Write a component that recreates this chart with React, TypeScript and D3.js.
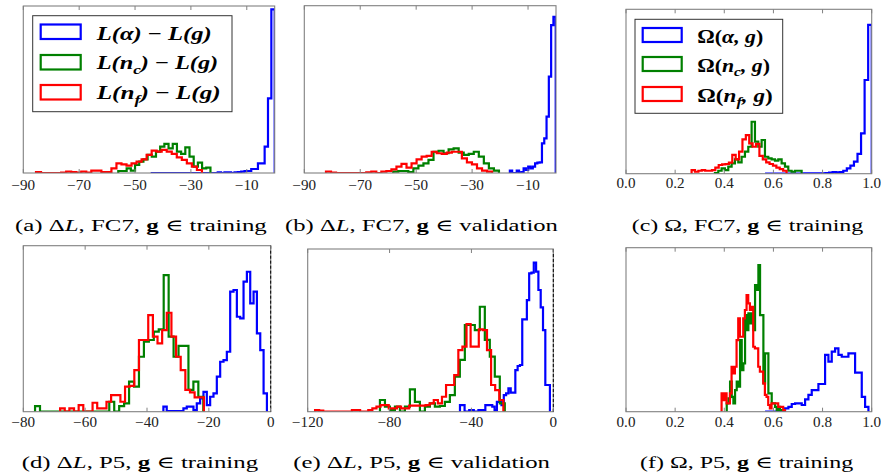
import React, { useEffect, useRef } from 'react';
import * as d3 from 'd3';

const BLUE = '#0000ff';
const GREEN = '#008000';
const RED = '#ff0000';

// Histogram heights are given as % of the axis height; start/width are bin edges in data units.
// (a) ΔL, FC7, training
const aBlueStart = -44.4, aBlueWidth = 1.2;
const aBlue = [0,0,0,0,0,0,0,0,0,0,0,0,0,0,0,0,0,0,0,0,0.4,0,0.4,0.4,0,0.4,0.6,0.8,1.2,1.2,2.4,2.4,5.8,5.8,15.8,44.7,98];
const aGreenStart = -56.0, aGreenWidth = 1.5;
const aGreen = [1.2,1.2,2.8,1.4,4.8,6.8,8.2,10.8,9.8,12.8,15.8,17.4,14.8,17.4,12.8,11.4,15.4,9.8,3.8,6.2,2.8,3.2];
const aRedStart = -85.45, aRedWidth = 1.8;
const aRed = [0.6,0,0,0,0,0.3,0.8,0.6,0.3,0.8,0.3,1.4,1.4,0.6,0.6,2.8,5.8,5.2,4.4,5.8,6.8,8.2,10.8,13.4,12.8,13.8,12.8,11.4,9.4,7.8,5.8,3.8,1.8];

// (b) ΔL, FC7, validation
const bBlueStart = -16.5, bBlueWidth = 0.82;
const bBlue = [1.4,0,0,1.4,0,0.6,2.8,1.8,3.8,2.8,3.8,5.8,6.2,6.4,17.7,20.7,33.7,57.6,88.4,93.4];
const bGreenStart = -58.2, bGreenWidth = 1.8;
const bGreen = [0.8,1.2,1.2,0.6,2.8,4.4,5.8,7.8,12.7,13.3,11.8,14.1,14.7,12.2,10.8,11.4,12.7,9.8,5.8,2.8,1.4];
const bRedStart = -82.25, bRedWidth = 1.8;
const bRed = [0.8,0.3,0,0,0,0,0,0,0.4,0.8,0,0.8,1.2,2.2,3.8,5.4,3.2,5.8,8.2,9.8,10.2,12.7,11.8,11.4,12.2,12.7,12.7,8.8,6.4,5.2,2.8,1.4,0.8];

// (c) Ω, FC7, training
const cBlueStart = 0.566, cBlueWidth = 0.01447;
const cBlue = [0,0,0,0,0,0,0,0,0,0,0,0.2,0.2,0.2,0.2,0.2,0.2,0.3,0.6,1.0,0.8,1.0,1.8,3.2,4.9,7.3,12.0,24.5,57,90.5];
const cGreenStart = 0.362, cGreenWidth = 0.01357;
const cGreen = [0.4,1.8,3.2,2.2,4.3,6.3,8.7,6.9,10.3,13.4,16.4,31.6,19.5,16.4,20.5,10.3,9.3,8.7,7.9,8.7,6.3,4.3,1.8,1.2,1.8,1.8];
const cRedStart = 0.267, cRedWidth = 0.0138;
const cRed = [2.2,1.2,1.8,2.2,1.8,1.8,2.2,3.7,5.3,5.7,5.9,6.7,11.4,8.7,13.4,20.9,23.5,18.5,16.4,18.1,10.8,8.7,6.9,5.9,4.9,3.7,2.8,1.8];

// (d) ΔL, P5, training
const dBlueStart = -34.7, dBlueWidth = 1.08;
const dBlue = [3.0,0.4,0.4,0.4,0.4,0.4,2.0,3.0,3.0,1.0,5.0,8.0,12.0,4.0,9.0,11.0,21.1,30.1,31.1,36.1,72.3,73.3,57.2,56.2,78.3,84.3,65.3,72.3,47.2,37.1,11.0];
const dGreenStart = -76.2, dGreenWidth = 1.6;
const dGreen = [3.4,0,0,0,0,0,0,0,0,0,0,0,0,0,0,6.0,0,3.4,5.0,18.1,15.1,33.1,42.2,43.2,48.2,49.6,82.3,45.2,33.1,39.6,39.6,13.1,18.1,9.0];
const dRedStart = -68.1, dRedWidth = 1.5;
const dRed = [2.0,0,2.0,0,4.0,0,0,5.4,2.0,2.0,6.0,10.0,10.0,6.0,15.1,15.5,25.1,43.2,43.2,58.2,45.2,41.2,49.2,59.6,45.2,33.1,25.1,13.1,11.6,8.6,8.6];

// (e) ΔL, P5, validation
const eBlueStart = -45.6, eBlueWidth = 1.127;
const eBlue = [4.1,4.1,0,0,1.0,1.0,0,0,1.0,1.0,1.0,4.1,4.1,4.1,3.1,1.0,6.1,6.1,4.1,10.2,11.3,14.3,11.7,11.7,25.6,28.1,28.7,56.8,56.8,68.6,85.0,85.5,91.6,86.1,74.8,64.1,50.2,16.4,16.4];
const eGreenStart = -84.7, eGreenWidth = 2.44;
const eGreen = [7.2,3.1,1.0,3.1,0,3.1,13.7,6.1,0,3.1,5.1,3.1,3.5,6.1,10.2,21.5,31.8,53.3,53.3,50.2,64.5,44.1,33.8,21.5,5.1];
const eRedStart = -116.4, eRedWidth = 2.0;
const eRed = [1.0,0.6,0,0,0,0,0,0,0,1.0,1.0,0,0,1.0,2.0,3.1,4.1,4.1,2.0,2.0,3.1,2.0,2.0,3.7,3.7,3.7,3.7,4.1,5.1,7.2,5.1,9.2,16.4,16.4,22.5,37.9,40.0,53.9,40.0,40.0,50.6,50.2,37.9,16.4,13.3,7.2];

// (f) Ω, P5, training
const fBlueStart = 0.566, fBlueWidth = 0.01357;
const fBlue = [0,0,0,0,0,0,2.0,3.0,4.7,5.1,5.1,4.1,7.5,10.2,13.2,13.2,16.9,16.9,34.6,30.5,36.6,38.6,34.6,33.5,33.5,35.6,35.6,23.8,23.8,9.1,3.0];
const fGreenStart = 0.41, fGreenWidth = 0.00678;
const fGreen = [5.1,8.1,18.3,9.1,5.1,13.2,18.3,15.2,43.7,25.4,29.5,58.9,49.8,60.0,53.9,60.0,49.8,77.2,74.2,89.4,58.9,58.9,17.3,35.6,35.6,11.2,11.2,5.1,5.1,3.0,1.0,3.0,1.0,1.0];
const fRedStart = 0.389, fRedWidth = 0.00678;
const fRed = [11.2,7.1,11.2,5.1,5.1,11.2,27.4,23.4,27.4,43.7,56.9,45.7,45.7,56.9,62.0,71.1,66.1,62.0,64.0,39.6,38.6,38.6,27.4,24.4,24.4,17.3,10.2,9.1,4.1,2.0,5.1,5.1,5.1,5.1,3.0,3.0,3.0,1.0];

// Tick values
const ticksFC7 = [-90, -70, -50, -30, -10];
const ticksP5train = [-80, -60, -40, -20, 0];
const ticksP5val = [-120, -80, -40, 0];
const ticksOmega = [0, 0.2, 0.4, 0.6, 0.8, 1.0];

// Captions
const captionLetters = ['a', 'b', 'c', 'd', 'e', 'f'];
const captionLayers = ['FC7', 'FC7', 'FC7', 'P5', 'P5', 'P5'];
const captionSets = ['training', 'validation', 'training', 'training', 'validation', 'training'];
const captionMeasures = ['ΔL', 'ΔL', 'Ω', 'ΔL', 'ΔL', 'Ω'];

type Series = { color: string; start: number; width: number; counts: number[] };
type Panel = {
  left: number; right: number; top: number; bottom: number;
  domain: [number, number]; ticks: number[]; tickY: number; fmt: string;
  dashedRight: boolean; series: Series[];
  cap: { x0: number; x1: number; y: number };
};

const S = (color: string, start: number, width: number, counts: number[]): Series => ({ color, start, width, counts });

const PANELS: Panel[] = [
  { left: 23.3, right: 274.7, top: 6, bottom: 173, domain: [-90, 0], ticks: ticksFC7, tickY: 190, fmt: 'd', dashedRight: false,
    series: [S(BLUE, aBlueStart, aBlueWidth, aBlue), S(GREEN, aGreenStart, aGreenWidth, aGreen), S(RED, aRedStart, aRedWidth, aRed)],
    cap: { x0: 15, x1: 267, y: 230.5 } },
  { left: 304.3, right: 556, top: 5.7, bottom: 173, domain: [-90, 0], ticks: ticksFC7, tickY: 190, fmt: 'd', dashedRight: false,
    series: [S(BLUE, bBlueStart, bBlueWidth, bBlue), S(GREEN, bGreenStart, bGreenWidth, bGreen), S(RED, bRedStart, bRedWidth, bRed)],
    cap: { x0: 285, x1: 558, y: 230.5 } },
  { left: 626, right: 871.7, top: 9.3, bottom: 173.7, domain: [0, 1], ticks: ticksOmega, tickY: 188, fmt: '.1f', dashedRight: false,
    series: [S(BLUE, cBlueStart, cBlueWidth, cBlue), S(GREEN, cGreenStart, cGreenWidth, cGreen), S(RED, cRedStart, cRedWidth, cRed)],
    cap: { x0: 631.7, x1: 863.3, y: 230.5 } },
  { left: 23.3, right: 270.7, top: 245.7, bottom: 411.7, domain: [-80, 0], ticks: ticksP5train, tickY: 426.5, fmt: 'd', dashedRight: true,
    series: [S(BLUE, dBlueStart, dBlueWidth, dBlue), S(GREEN, dGreenStart, dGreenWidth, dGreen), S(RED, dRedStart, dRedWidth, dRed)],
    cap: { x0: 21.7, x1: 258.3, y: 468.3 } },
  { left: 307.7, right: 553.3, top: 249, bottom: 411.7, domain: [-120, 0], ticks: ticksP5val, tickY: 426.5, fmt: 'd', dashedRight: true,
    series: [S(BLUE, eBlueStart, eBlueWidth, eBlue), S(GREEN, eGreenStart, eGreenWidth, eGreen), S(RED, eRedStart, eRedWidth, eRed)],
    cap: { x0: 293.3, x1: 550, y: 468.3 } },
  { left: 626, right: 871.7, top: 247.7, bottom: 411.7, domain: [0, 1], ticks: ticksOmega, tickY: 426.5, fmt: '.1f', dashedRight: false,
    series: [S(BLUE, fBlueStart, fBlueWidth, fBlue), S(GREEN, fGreenStart, fGreenWidth, fGreen), S(RED, fRedStart, fRedWidth, fRed)],
    cap: { x0: 640, x1: 853.3, y: 468.3 } },
];

type Part = { t: string; i?: boolean; b?: boolean; sub?: boolean };

const legendL: Part[][] = [
  [{ t: 'L(α)', i: true }, { t: ' − ' }, { t: 'L(g)', i: true }],
  [{ t: 'L(n', i: true }, { t: 'c', i: true, sub: true }, { t: ')', i: true }, { t: ' − ' }, { t: 'L(g)', i: true }],
  [{ t: 'L(n', i: true }, { t: 'f', i: true, sub: true }, { t: ')', i: true }, { t: ' − ' }, { t: 'L(g)', i: true }],
];
const legendO: Part[][] = [
  [{ t: 'Ω(' }, { t: 'α, g', i: true }, { t: ')' }],
  [{ t: 'Ω(' }, { t: 'n', i: true }, { t: 'c', i: true, sub: true }, { t: ', g', i: true }, { t: ')' }],
  [{ t: 'Ω(' }, { t: 'n', i: true }, { t: 'f', i: true, sub: true }, { t: ', g', i: true }, { t: ')' }],
];

const SERIF = '"Liberation Serif", "Times New Roman", "DejaVu Serif", serif';

function writeParts(text: d3.Selection<SVGTextElement, unknown, null, undefined>, parts: Part[], size: number) {
  let shifted = false;
  parts.forEach((p) => {
    const ts = text.append('tspan').text(p.t);
    if (p.i) ts.attr('font-style', 'italic');
    if (p.b) ts.attr('font-weight', 'bold');
    if (p.sub) {
      ts.attr('font-size', size * 0.7).attr('dy', size * 0.25);
      shifted = true;
    } else if (shifted) {
      ts.attr('dy', -size * 0.25);
      shifted = false;
    }
  });
}

function fit(text: d3.Selection<SVGTextElement, unknown, null, undefined>, x: number, y: number, w: number) {
  const node = text.node() as SVGTextElement;
  const len = node.getComputedTextLength ? node.getComputedTextLength() : w;
  const sx = len > 0 ? w / len : 1;
  text.attr('transform', `translate(${x},${y}) scale(${sx},1)`);
}

function draw(el: SVGSVGElement) {
  const svg = d3.select(el);
  svg.selectAll('*').remove();
  svg.append('rect').attr('width', 881).attr('height', 475).attr('fill', '#ffffff');
  const defs = svg.append('defs');

  PANELS.forEach((p, idx) => {
    const x = d3.scaleLinear().domain(p.domain).range([p.left, p.right]);
    const y = d3.scaleLinear().domain([0, 100]).range([p.bottom, p.top]);
    const clipId = `clip-${idx}`;
    defs.append('clipPath').attr('id', clipId).append('rect')
      .attr('x', p.left).attr('y', p.top).attr('width', p.right - p.left).attr('height', p.bottom - p.top);
    const g = svg.append('g');

    const line = d3.line<[number, number]>().x((d) => x(d[0])).y((d) => y(d[1]));
    p.series.forEach((s) => {
      const edges = d3.range(s.counts.length + 1).map((i) => s.start + i * s.width);
      const pts: [number, number][] = [[edges[0], 0]];
      s.counts.forEach((c, i) => { pts.push([edges[i], c]); pts.push([edges[i + 1], c]); });
      pts.push([edges[edges.length - 1], 0]);
      g.append('path').attr('d', line(pts) || '')
        .attr('fill', 'none').attr('stroke', s.color).attr('stroke-width', 2.2)
        .attr('stroke-linejoin', 'miter').attr('clip-path', `url(#${clipId})`);
    });

    // frame
    g.append('rect').attr('x', p.left).attr('y', p.top).attr('width', p.right - p.left).attr('height', p.bottom - p.top)
      .attr('fill', 'none').attr('stroke', '#808080').attr('stroke-width', 1.1);
    if (p.dashedRight) {
      g.append('line').attr('x1', x(0)).attr('x2', x(0)).attr('y1', p.top).attr('y2', p.bottom)
        .attr('stroke', '#000').attr('stroke-width', 1).attr('stroke-dasharray', '3,2');
    }
    // ticks
    const fmt = d3.format(p.fmt);
    p.ticks.forEach((t) => {
      const tx = x(t);
      g.append('line').attr('x1', tx).attr('x2', tx).attr('y1', p.top).attr('y2', p.top + 4)
        .attr('stroke', '#808080').attr('stroke-width', 1);
      g.append('line').attr('x1', tx).attr('x2', tx).attr('y1', p.bottom).attr('y2', p.bottom - 4)
        .attr('stroke', '#808080').attr('stroke-width', 1);
      g.append('text').attr('transform', `translate(${tx},${p.tickY}) scale(1.08,1)`)
        .attr('text-anchor', 'middle').attr('font-family', SERIF).attr('font-size', 14).attr('fill', '#222')
        .text(fmt(t).replace('-', '\u2212'));
    });

    // caption
    const cap = svg.append('text').attr('font-family', SERIF).attr('font-size', 17).attr('fill', '#000');
    writeParts(cap, [
      { t: `(${captionLetters[idx]}) ` },
      { t: captionMeasures[idx].charAt(0) },
      { t: captionMeasures[idx].slice(1), i: true },
      { t: `, ${captionLayers[idx]}, ` },
      { t: 'g', b: true },
      { t: ` \u2208 ${captionSets[idx]}` },
    ], 17);
    fit(cap, p.cap.x0, p.cap.y, p.cap.x1 - p.cap.x0);
  });

  // legends
  const legends = [
    { box: [32.7, 15.7, 232, 111.7], patchX: [40.7, 80.7], patchY: [24.5, 55, 85], patchH: 14.5,
      textX: 96.7, baselines: [40, 69.3, 99.3], widths: [115, 121.6, 124], rows: legendL, size: 19, bold: true },
    { box: [635, 19.3, 782.7, 113.3], patchX: [642.7, 681.7], patchY: [28, 57, 87], patchH: 14,
      textX: 697.3, baselines: [42.5, 71.5, 101.5], widths: [66, 72.7, 75.4], rows: legendO, size: 18, bold: true },
  ];
  const colors = [BLUE, GREEN, RED];
  legends.forEach((L) => {
    const g = svg.append('g');
    g.append('rect').attr('x', L.box[0]).attr('y', L.box[1]).attr('width', L.box[2] - L.box[0]).attr('height', L.box[3] - L.box[1])
      .attr('fill', '#fff').attr('stroke', '#333').attr('stroke-width', 1);
    L.rows.forEach((row, i) => {
      g.append('rect').attr('x', L.patchX[0]).attr('y', L.patchY[i]).attr('width', L.patchX[1] - L.patchX[0]).attr('height', L.patchH)
        .attr('fill', '#fff').attr('stroke', colors[i]).attr('stroke-width', 2.2);
      const t = g.append('text').attr('font-family', SERIF).attr('font-size', L.size).attr('font-weight', 'bold').attr('fill', '#000');
      writeParts(t, row, L.size);
      fit(t, L.textX, L.baselines[i], L.widths[i]);
    });
  });
}

export default function App() {
  const ref = useRef<SVGSVGElement>(null);
  useEffect(() => {
    if (!ref.current) return;
    draw(ref.current);
    const fonts = (document as any).fonts;
    if (fonts && fonts.ready) fonts.ready.then(() => { if (ref.current) draw(ref.current); });
  }, []);
  return (
    <svg ref={ref} width={881} height={475} viewBox="0 0 881 475"
      style={{ position: 'absolute', left: 0, top: 0, display: 'block' }} />
  );
}
